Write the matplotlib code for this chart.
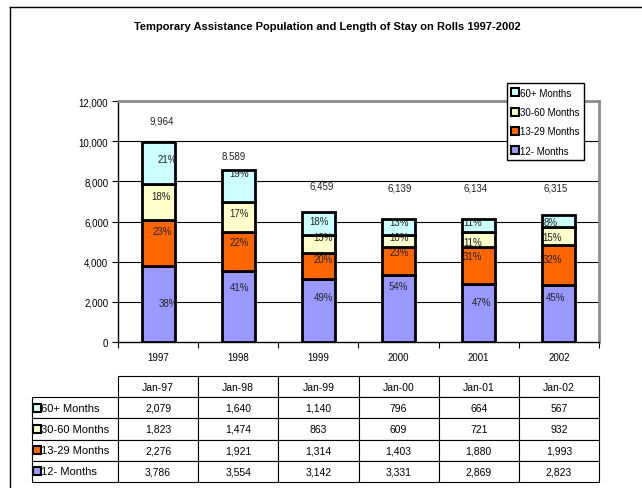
import matplotlib
matplotlib.use('Agg')
import matplotlib.pyplot as plt
from matplotlib.lines import Line2D
import numpy as np

plt.rcParams['font.family'] = ['Liberation Sans', 'DejaVu Sans']

years = ['1997', '1998', '1999', '2000', '2001', '2002']
col_labels = ['Jan-97', 'Jan-98', 'Jan-99', 'Jan-00', 'Jan-01', 'Jan-02']
months_12 = [3786, 3554, 3142, 3331, 2869, 2823]
months_13_29 = [2276, 1921, 1314, 1403, 1880, 1993]
months_30_60 = [1823, 1474, 863, 609, 721, 932]
months_60 = [2079, 1640, 1140, 796, 664, 567]
total_labels = ['9,964', '8.589', '6,459', '6,139', '6,134', '6,315']
# percent labels as printed (bottom segment first)
pct_12 = ['38%', '41%', '49%', '54%', '47%', '45%']
pct_13_29 = ['23%', '22%', '20%', '23%', '31%', '32%']
pct_30_60 = ['18%', '17%', '13%', '10%', '11%', '15%']
pct_60 = ['21%', '19%', '18%', '13%', '11%', '8%']

series = [
    ('12- Months', months_12, pct_12, '#9999FF'),
    ('13-29 Months', months_13_29, pct_13_29, '#FF6600'),
    ('30-60 Months', months_30_60, pct_30_60, '#FFFFCC'),
    ('60+ Months', months_60, pct_60, '#CCFFFF'),
]

# where the labels sit in the original (value units), layout only
pct_label_y = [
    [1940, 2740, 2240, 2790, 1990, 2240],
    [5530, 4980, 4130, 4480, 4280, 4130],
    [7270, 6420, 5230, 5230, 4980, 5230],
    [9110, 8410, 6030, 5970, 5970, 5970],
]
pct_label_dx = [
    [10, 1, 5, 0, 3, -3],
    [4, 1, 5, 1, -6, -6],
    [3, 1, 5, 0, -6, -7],
    [9, 1, 1, 0, -6, -8],
]
total_label_y = [11050, 9270, 7800, 7670, 7670, 7670]
total_label_dx = [4, -5, 3, 1, -3, -3]

W, H = 642, 489
fig = plt.figure(figsize=(W / 100, H / 100), dpi=100)
ax = fig.add_axes([118 / W, 1 - 343 / H, (599 - 118) / W, (343 - 102) / H])

x = np.arange(len(years))
px = 1 / 80.2  # one pixel in category units
bottom = np.zeros(len(years))
for (name, vals, pcts, color), ys, dxs in zip(series, pct_label_y, pct_label_dx):
    ax.bar(x, vals, 0.41, bottom=bottom, color=color, edgecolor='black',
           linewidth=2, label=name, zorder=3)
    for i in range(len(years)):
        ax.text(x[i] + dxs[i] * px, ys[i], pcts[i], ha='center', va='center',
                fontsize=7, color='#222222', zorder=4)
    bottom += np.array(vals)

for i in range(len(years)):
    ax.text(x[i] + total_label_dx[i] * px, total_label_y[i], total_labels[i],
            ha='center', va='center', fontsize=7, color='#222222')

ax.set_xlim(-0.5, len(years) - 0.5)
ax.set_ylim(0, 12000)
ax.set_yticks(np.arange(0, 12001, 2000))
ax.set_yticklabels([f'{v:,}' for v in range(0, 12001, 2000)], fontsize=7)
ax.set_xticks(x)
ax.set_xticklabels(years, fontsize=7)
ax.set_xticks(np.arange(-0.5, len(years)), minor=True)
ax.tick_params(axis='x', which='major', length=0, pad=7)
ax.tick_params(axis='x', which='minor', length=4, width=0.8, direction='out')
ax.tick_params(axis='y', length=4, width=0.8, direction='out', pad=3)
for v in range(2000, 12000, 2000):
    ax.axhline(v, color='black', linewidth=0.8, zorder=1)
ax.spines['top'].set_color('#8c8c8c')
ax.spines['right'].set_color('#8c8c8c')
ax.spines['top'].set_linewidth(2)
ax.spines['right'].set_linewidth(2)
ax.spines['left'].set_linewidth(1)
ax.spines['bottom'].set_linewidth(1)

fig.text(327 / W, 1 - 27 / H, 'Temporary Assistance Population and Length of Stay on Rolls 1997-2002',
         ha='center', va='center', fontsize=8, fontweight='bold')

# legend (top entry is 60+)
handles = [Line2D([], [], linestyle='none', marker='s', markersize=5.5,
                  markerfacecolor=c, markeredgecolor='black', markeredgewidth=1.5)
           for _, _, _, c in series[::-1]]
leg = ax.legend(handles, [s[0] for s in series[::-1]], loc='upper left',
                bbox_to_anchor=(507 / W, 1 - 84 / H), bbox_transform=fig.transFigure,
                fontsize=7, frameon=True, fancybox=False, edgecolor='black',
                handlelength=0.6, handletextpad=0.2, labelspacing=0.95,
                borderpad=0.5, borderaxespad=0, framealpha=1)
leg.get_frame().set_linewidth(1)

# data table below the chart
row_names = [s[0] for s in series[::-1]]
cell_rows = [[f'{v:,}' for v in s[1]] for s in series[::-1]]
cells = [[name] + row for name, row in zip(row_names, cell_rows)]
ax_w = 599 - 118
tb_left = (32 - 118) / ax_w
tb_top = (343 - 377) / 241
tb_bot = (343 - 483) / 241
label_w = 86
widths = [label_w / (599 - 32)] + [ax_w / 6 / (599 - 32)] * 6
tbl = ax.table(cellText=cells, colLabels=[''] + col_labels, colWidths=widths,
               cellLoc='center', bbox=[tb_left, tb_bot, 1 - tb_left, tb_top - tb_bot])
tbl.auto_set_font_size(False)
for (r, c), cell in tbl.get_celld().items():
    cell.set_fontsize(7.5)
    cell.set_linewidth(0.8)
    if r == 0 and c == 0:
        cell.visible_edges = ''
    if c == 0 and r > 0:
        cell.set_fontsize(8)
        cell.get_text().set_ha('left')
        cell._loc = 'left'
        cell.PAD = 0.1

row_h = (tb_top - tb_bot) / 5
for k, (_, _, _, color) in enumerate(series[::-1]):
    yc = tb_top - row_h * (k + 1.5)
    ax.plot([(37 - 118) / ax_w], [yc], marker='s', markersize=5.5, markerfacecolor=color,
            markeredgecolor='black', markeredgewidth=1.5, transform=ax.transAxes,
            clip_on=False, linestyle='none')

# page frame (left and top edges visible)
fig.add_artist(Line2D([10 / W, 10 / W], [0, 1 - 8 / H], color='black', linewidth=1))
fig.add_artist(Line2D([10 / W, 1], [1 - 8 / H, 1 - 8 / H], color='black', linewidth=1))

fig.savefig('out.png', dpi=100)
